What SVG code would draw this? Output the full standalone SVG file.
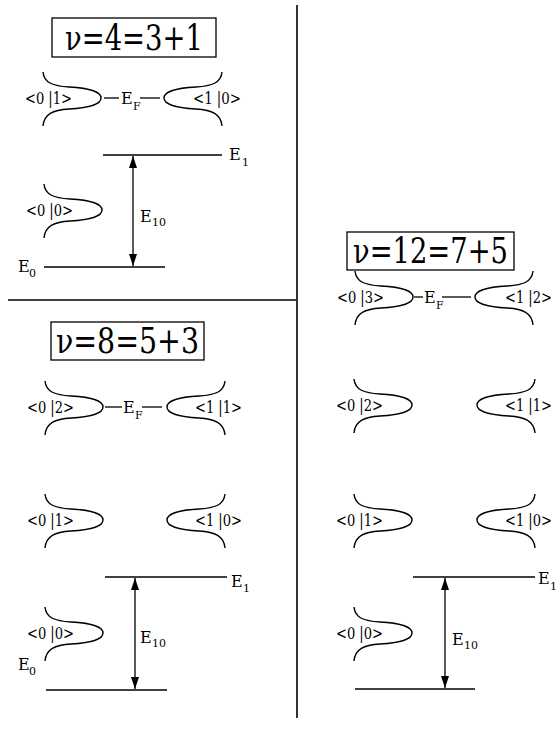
<svg xmlns="http://www.w3.org/2000/svg" width="558" height="730" viewBox="0 0 558 730">
<style>
.bg{fill:#fff}
.ln{stroke:#000;stroke-width:1.3;fill:none}
.dv{stroke:#000;stroke-width:1.6;fill:none}
.lobe{stroke:#000;stroke-width:1.4;fill:none}
.box{stroke:#000;stroke-width:1.3;fill:#fff}
.t{font-size:16px}
.s{font-size:11px}
.big{font-size:36px}
</style>
<defs>
<path id="lobe" d="M0,-26 C1,-15 10,-12 26,-11 C46,-10 58,-6 58,0 C58,6 46,10 26,11 C10,12 1,16 0,28"/>
<marker id="ah" viewBox="0 0 12 8" refX="12" refY="4" markerWidth="12" markerHeight="8" markerUnits="userSpaceOnUse" orient="auto-start-reverse">
<path d="M0,0 L12,4 L0,8 Z" fill="#000"/>
</marker>
</defs>
<rect class="bg" x="0" y="0" width="558" height="730"/>

<g id="dividers">
<line class="dv" x1="297" y1="5" x2="297" y2="718"/>
<line class="dv" x1="8" y1="300" x2="296" y2="300"/>
</g>

<g font-family="DejaVu Serif, serif" fill="#000">
<g id="title-nu4">
<rect class="box" x="52" y="18" width="164" height="39"/>
<text class="big" x="65" y="50" textLength="138" lengthAdjust="spacingAndGlyphs">ν=4=3+1</text>
</g>
<g id="title-nu8">
<rect class="box" x="51" y="322" width="153" height="38"/>
<text class="big" x="56" y="353" textLength="143" lengthAdjust="spacingAndGlyphs">ν=8=5+3</text>
</g>
<g id="title-nu12">
<rect class="box" x="347" y="232" width="167" height="38"/>
<text class="big" x="353" y="263" textLength="155" lengthAdjust="spacingAndGlyphs">ν=12=7+5</text>
</g>

<g id="tl-01">
<use href="#lobe" class="lobe" transform="translate(43,98)"/>
<text class="t" x="25" y="104" textLength="47" lengthAdjust="spacingAndGlyphs">&lt;0 |1&gt;</text>
</g>
<g id="tl-10">
<use href="#lobe" class="lobe" transform="translate(222,98) scale(-1,1)"/>
<text class="t" x="193" y="104" textLength="48" lengthAdjust="spacingAndGlyphs">&lt;1 |0&gt;</text>
</g>
<g id="tl-00">
<use href="#lobe" class="lobe" transform="translate(44,210)"/>
<text class="t" x="26" y="216" textLength="47" lengthAdjust="spacingAndGlyphs">&lt;0 |0&gt;</text>
</g>

<g id="bl-02">
<use href="#lobe" class="lobe" transform="translate(45,407)"/>
<text class="t" x="27" y="413" textLength="47" lengthAdjust="spacingAndGlyphs">&lt;0 |2&gt;</text>
</g>
<g id="bl-11">
<use href="#lobe" class="lobe" transform="translate(225,407) scale(-1,1)"/>
<text class="t" x="195" y="413" textLength="47" lengthAdjust="spacingAndGlyphs">&lt;1 |1&gt;</text>
</g>
<g id="bl-01">
<use href="#lobe" class="lobe" transform="translate(45,520)"/>
<text class="t" x="27" y="526" textLength="47" lengthAdjust="spacingAndGlyphs">&lt;0 |1&gt;</text>
</g>
<g id="bl-10">
<use href="#lobe" class="lobe" transform="translate(225,520) scale(-1,1)"/>
<text class="t" x="195" y="526" textLength="47" lengthAdjust="spacingAndGlyphs">&lt;1 |0&gt;</text>
</g>
<g id="bl-00">
<use href="#lobe" class="lobe" transform="translate(45,633)"/>
<text class="t" x="27" y="639" textLength="47" lengthAdjust="spacingAndGlyphs">&lt;0 |0&gt;</text>
</g>

<g id="r-03">
<use href="#lobe" class="lobe" transform="translate(355,297)"/>
<text class="t" x="337" y="303" textLength="47" lengthAdjust="spacingAndGlyphs">&lt;0 |3&gt;</text>
</g>
<g id="r-12">
<use href="#lobe" class="lobe" transform="translate(533,297) scale(-1,1)"/>
<text class="t" x="505" y="303" textLength="47" lengthAdjust="spacingAndGlyphs">&lt;1 |2&gt;</text>
</g>
<g id="r-02">
<use href="#lobe" class="lobe" transform="translate(354,405)"/>
<text class="t" x="336" y="411" textLength="47" lengthAdjust="spacingAndGlyphs">&lt;0 |2&gt;</text>
</g>
<g id="r-11">
<use href="#lobe" class="lobe" transform="translate(535,405) scale(-1,1)"/>
<text class="t" x="505" y="411" textLength="47" lengthAdjust="spacingAndGlyphs">&lt;1 |1&gt;</text>
</g>
<g id="r-01">
<use href="#lobe" class="lobe" transform="translate(354,520)"/>
<text class="t" x="336" y="526" textLength="47" lengthAdjust="spacingAndGlyphs">&lt;0 |1&gt;</text>
</g>
<g id="r-10">
<use href="#lobe" class="lobe" transform="translate(535,520) scale(-1,1)"/>
<text class="t" x="505" y="526" textLength="47" lengthAdjust="spacingAndGlyphs">&lt;1 |0&gt;</text>
</g>
<g id="r-00">
<use href="#lobe" class="lobe" transform="translate(354,633)"/>
<text class="t" x="336" y="639" textLength="47" lengthAdjust="spacingAndGlyphs">&lt;0 |0&gt;</text>
</g>

<g id="labels">
<text class="t" x="121" y="104">E</text><text class="s" x="133" y="110">F</text>
<text class="t" x="123" y="413">E</text><text class="s" x="135" y="419">F</text>
<text class="t" x="424" y="303">E</text><text class="s" x="436" y="309">F</text>
<text class="t" x="229" y="160">E</text><text class="s" x="242" y="166">1</text>
<text class="t" x="140" y="222">E</text><text class="s" x="152" y="226">10</text>
<text class="t" x="18" y="272">E</text><text class="s" x="29" y="277">0</text>
<text class="t" x="231" y="587">E</text><text class="s" x="243" y="592">1</text>
<text class="t" x="140" y="643">E</text><text class="s" x="152" y="647">10</text>
<text class="t" x="18" y="670">E</text><text class="s" x="29" y="675">0</text>
<text class="t" x="538" y="584">E</text><text class="s" x="550" y="590">1</text>
<text class="t" x="452" y="645">E</text><text class="s" x="464" y="649">10</text>
</g>
</g>

<g id="connectors">
<line class="ln" x1="104" y1="98" x2="119" y2="98"/>
<line class="ln" x1="140" y1="98" x2="160" y2="98"/>
<line class="ln" x1="105" y1="407" x2="122" y2="407"/>
<line class="ln" x1="142" y1="407" x2="162" y2="407"/>
<line class="ln" x1="414" y1="297" x2="423" y2="297"/>
<line class="ln" x1="442" y1="297" x2="471" y2="297"/>
<line class="ln" x1="103" y1="155" x2="222" y2="155"/>
<line class="ln" x1="44" y1="267" x2="165" y2="267"/>
<line class="ln" x1="133" y1="156" x2="133" y2="266" marker-start="url(#ah)" marker-end="url(#ah)"/>
<line class="ln" x1="105" y1="577" x2="227" y2="577"/>
<line class="ln" x1="46" y1="690" x2="167" y2="690"/>
<line class="ln" x1="135" y1="578" x2="135" y2="689" marker-start="url(#ah)" marker-end="url(#ah)"/>
<line class="ln" x1="413" y1="577" x2="535" y2="577"/>
<line class="ln" x1="355" y1="689" x2="475" y2="689"/>
<line class="ln" x1="445" y1="578" x2="445" y2="688" marker-start="url(#ah)" marker-end="url(#ah)"/>
</g>
</svg>
